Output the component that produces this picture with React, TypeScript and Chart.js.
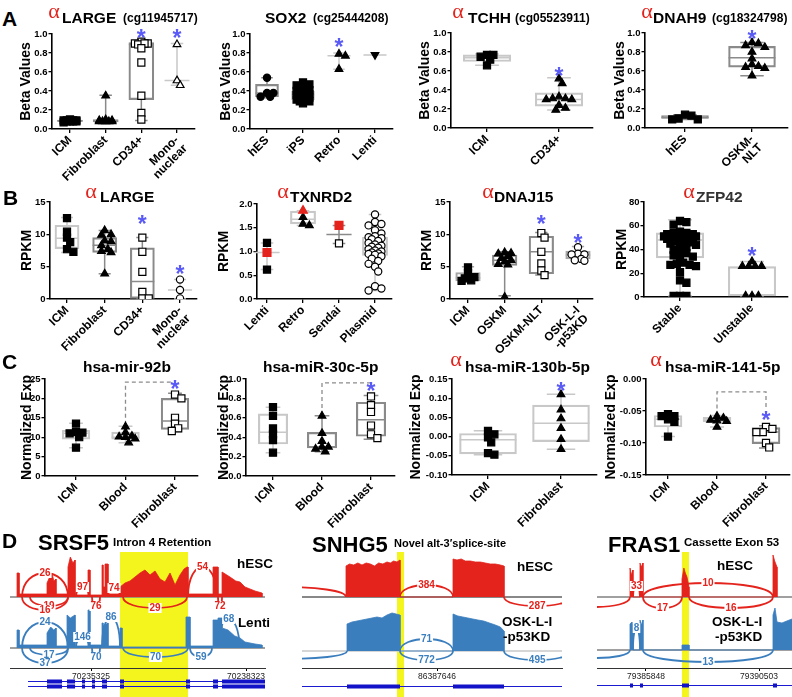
import React, { useEffect, useRef } from 'react';
import { Chart, registerables } from 'chart.js';
Chart.register(...registerables);

const FONT = "'Liberation Sans', Arial, Helvetica, sans-serif";
const SERIF = "'Liberation Serif', 'DejaVu Serif', serif";
const RED = '#e3231c';
const BLUE = '#3b7ebe';
const STAR = '#5a5af6';
const TONE: any = { d: '#8a8a8a', m: '#a6a6a6', l: '#c8c8c8' };

// ---------------- Row A : Beta values ----------------
const A1_CATS = ['ICM', 'Fibroblast', 'CD34+', ['Mono-', 'nuclear']];
const A1_ICM = [0.08, 0.09, 0.07, 0.09, 0.1, 0.08, 0.09, 0.08, 0.09, 0.08];
const A1_FIB = [0.35, 0.1, 0.09, 0.08, 0.08, 0.08, 0.08, 0.08, 0.09];
const A1_CD34 = [0.92, 0.9, 0.9, 0.89, 0.9, 0.85, 0.7, 0.35, 0.17, 0.1];
const A1_MONO = [0.89, 0.51, 0.46];
const A1_BOX = [[0.07, 0.08, 0.085, 0.095, 0.1], [0.07, 0.075, 0.085, 0.1, 0.355], [0.09, 0.31, 0.89, 0.91, 0.93], [0.46, null, 0.51, null, 0.9]];
const A1_STARS = [[2, 1.02], [3, 1.02]];

const A2_CATS = ['hES', 'iPS', 'Retro', 'Lenti'];
const A2_HES = [0.54, 0.38, 0.34, 0.34, 0.38];
const A2_IPS = [0.49, 0.47, 0.46, 0.42, 0.41, 0.4, 0.39, 0.38, 0.37, 0.36, 0.36, 0.35, 0.34, 0.33, 0.32, 0.31, 0.3, 0.29, 0.29, 0.27];
const A2_RETRO = [0.79, 0.77, 0.63];
const A2_LENTI = [0.78];
const A2_BOX = [[0.33, 0.34, 0.38, 0.47, 0.54], [0.27, 0.31, 0.36, 0.4, 0.49], [0.63, null, 0.77, null, 0.8], [0.78, null, 0.78, null, 0.78]];
const A2_STARS = [[2, 0.93]];

const A3_CATS = ['ICM', 'CD34+'];
const A3_ICM = [0.77, 0.77, 0.75, 0.72, 0.66];
const A3_CD34 = [0.52, 0.47, 0.33, 0.31, 0.31, 0.3, 0.3, 0.24, 0.21, 0.19];
const A3_BOX = [[0.66, 0.7, 0.74, 0.77, 0.78], [0.19, 0.23, 0.3, 0.37, 0.53]];
const A3_STARS = [[1, 0.61]];

const A4_CATS = ['hES', ['OSKM-', 'NLT']];
const A4_HES = [0.14, 0.1, 0.09, 0.09, 0.13];
const A4_NLT = [0.9, 0.89, 0.87, 0.85, 0.8, 0.73, 0.67, 0.65, 0.64, 0.63, 0.55];
const A4_BOX = [[0.09, 0.1, 0.11, 0.13, 0.14], [0.55, 0.64, 0.74, 0.86, 0.9]];
const A4_STARS = [[1, 1.0]];

// ---------------- Row B : RPKM ----------------
const B1_CATS = ['ICM', 'Fibroblast', 'CD34+', ['Mono-', 'nuclear']];
const B1_ICM = [12.5, 10.4, 9.5, 8.8, 7.7, 7.3];
const B1_FIB = [10.6, 10.0, 9.9, 9.0, 8.9, 8.3, 7.7, 7.4, 7.2, 3.9];
const B1_CD34 = [9.5, 7.3, 4.2, 1.1, 0.1, 0.1];
const B1_MONO = [3.0, 1.4, 0.1];
const B1_BOX = [[7.2, 7.8, 9.4, 11.4, 12.6], [3.9, 7.2, 8.3, 9.5, 10.6], [0, 0, 2.7, 7.9, 9.5], [0, null, 1.4, null, 3.0]];
const B1_STARS = [[2, 12.5], [3, 4.8]];

const B2_CATS = ['Lenti', 'Retro', 'Sendai', 'Plasmid'];
const B2_LENTI = [1.18, 0.62];
const B2_LENTI_RED = [0.98];
const B2_RETRO = [1.72, 1.58, 1.55];
const B2_RETRO_RED = [1.86];
const B2_SENDAI = [1.17];
const B2_SENDAI_RED = [1.55];
const B2_PLASMID = [1.78, 1.62, 1.58, 1.55, 1.45, 1.38, 1.32, 1.3, 1.28, 1.26, 1.22, 1.18, 1.15, 1.12, 1.1, 1.08, 1.05, 1.02, 1.0, 0.98, 0.96, 0.95, 0.93, 0.9, 0.85, 0.8, 0.74, 0.68, 0.58, 0.27, 0.22, 0.18];
const B2_BOX = [[0.62, null, 0.98, null, 1.18], [1.55, 1.58, 1.68, 1.85, 1.86], [1.17, null, 1.36, null, 1.55], [0.18, 0.92, 1.08, 1.3, 1.78]];

const B3_CATS = ['ICM', 'OSKM', 'OSKM-NLT', ['OSK-L-I', '-p53KD']];
const B3_ICM = [4.9, 4.0, 3.4, 3.2, 2.9, 2.8];
const B3_OSKM = [7.2, 7.1, 7.0, 6.6, 6.3, 6.0, 5.8, 5.4, 5.3, 0.3];
const B3_NLT = [10.2, 9.5, 7.3, 5.5, 4.4, 3.7];
const B3_KD = [8.0, 7.0, 6.9, 6.9, 6.2, 6.0, 5.9];
const B3_BOX = [[2.7, 2.8, 3.3, 4.1, 5.0], [0.5, 5.2, 6.0, 6.8, 7.3], [3.7, 3.9, 7.3, 9.7, 10.3], [5.8, 6.2, 6.8, 7.4, 8.1]];
const B3_STARS = [[2, 12.6], [3, 9.6]];

const B4_CATS = ['Stable', 'Unstable'];
const B4_STABLE = [64, 63, 61, 55, 54, 54, 53, 53, 53, 52, 52, 52, 51, 51, 50, 50, 50, 49, 49, 48, 47, 46, 45, 44, 43, 42, 40, 38, 37, 35, 34, 33, 29, 28, 27, 27, 26, 21, 14, 12, 1, 1, 1];
const B4_UNSTABLE = [30, 26, 26, 26, 26, 1, 1, 1];
const B4_BOX = [[1, 33, 48, 54, 65], [1, 1, 25, 25.5, 30]];
const B4_STARS = [[1, 40]];

// ---------------- Row C : miRNA ----------------
const C1_CATS = ['ICM', 'Blood', 'Fibroblast'];
const C1_ICM = [13.5, 11.3, 11.2, 11.0, 10.0, 7.3];
const C1_BLOOD = [12.7, 11.2, 10.3, 10.1, 10.0, 9.6, 8.6];
const C1_FIB = [21.0, 20.0, 15.0, 13.5, 12.3, 11.6];
const C1_BOX = [[7.3, 9.5, 11.0, 11.8, 13.6], [8.6, 9.5, 10.0, 11.3, 12.8], [11.5, 12.0, 14.2, 20.0, 21.3]];
const C1_STARS = [[2, 24.0]];
const C1_BRACKETS = [[1, 2, 13.2, 24.2, null]];

const C2_CATS = ['ICM', 'Blood', 'Fibroblast'];
const C2_ICM = [0.71, 0.62, 0.49, 0.43, 0.37, 0.24];
const C2_BLOOD = [0.62, 0.44, 0.36, 0.3, 0.3, 0.28, 0.25];
const C2_FIB = [0.82, 0.73, 0.66, 0.52, 0.43, 0.39];
const C2_BOX = [[0.24, 0.33, 0.45, 0.64, 0.71], [0.25, 0.29, 0.3, 0.45, 0.62], [0.38, 0.41, 0.58, 0.76, 0.83]];
const C2_STARS = [[2, 0.94]];
const C2_BRACKETS = [[1, 2, 0.63, 0.96, null]];

const C3_CATS = ['ICM', 'Fibroblast'];
const C3_ICM = [0.015, 0.006, -0.002, -0.015, -0.043, -0.047];
const C3_FIB = [0.11, 0.07, 0.047, 0.022, -0.007, -0.033];
const C3_BOX = [[-0.047, -0.045, -0.008, 0.008, 0.015], [-0.033, -0.013, 0.035, 0.082, 0.11]];
const C3_STARS = [[1, 0.134]];

const C4_CATS = ['ICM', 'Blood', 'Fibroblast'];
const C4_ICM = [-0.055, -0.058, -0.058, -0.063, -0.067, -0.09];
const C4_BLOOD = [-0.058, -0.061, -0.064, -0.065, -0.066, -0.075];
const C4_FIB = [-0.075, -0.078, -0.083, -0.083, -0.1, -0.107];
const C4_BOX = [[-0.09, -0.075, -0.063, -0.057, -0.055], [-0.075, -0.067, -0.064, -0.06, -0.057], [-0.108, -0.101, -0.083, -0.076, -0.073]];
const C4_STARS = [[2, -0.055]];
const C4_BRACKETS = [[1, 2, -0.057, -0.02, -0.045]];

// ---------------- Row D : sashimi ----------------
const SRSF5_ORIGIN = 70235325;
const SRSF5_TICKS = [0, 2998];
const SRSF5_RANGE = [-1567, 3365];
const SRSF5_HL = [561, 1876];
const SRSF5_HESC_COV = [[-1431, 0], [-1431, 24], [-1392, 24], [-1392, 3], [-851, 3], [-851, 14], [-800, 20], [-754, 24], [-720, 16], [-677, 18], [-677, 3], [-445, 3], [-445, 30], [-400, 40], [-350, 34], [-309, 37], [-309, 2], [-58, 2], [-58, 27], [-20, 27], [-20, 2], [213, 2], [213, 32], [232, 32], [232, 10], [271, 10], [271, 33], [329, 33], [329, 3], [561, 3], [561, 10], [658, 14], [754, 16], [851, 20], [948, 24], [1044, 27], [1141, 22], [1238, 26], [1334, 18], [1431, 15], [1528, 24], [1625, 12], [1721, 22], [1799, 28], [1857, 30], [1876, 30], [1876, 3], [2360, 3], [2360, 30], [2456, 30], [2456, 3], [2534, 3], [2534, 25], [2688, 20], [2800, 16], [2882, 15], [2978, 10], [3172, 6], [3307, 4], [3307, 0]];
const SRSF5_LENTI_COV = [[-1431, 0], [-1431, 18], [-1392, 18], [-1392, 3], [-851, 3], [-851, 15], [-780, 21], [-720, 18], [-677, 20], [-677, 2], [-464, 2], [-464, 33], [-400, 30], [-309, 33], [-309, 2], [-58, 2], [-58, 38], [-20, 38], [-20, 3], [213, 3], [213, 25], [232, 25], [232, 22], [329, 25], [329, 2], [561, 2], [561, 20], [600, 20], [600, 1], [1837, 1], [1837, 31], [1915, 31], [1915, 2], [2360, 2], [2360, 28], [2456, 28], [2456, 30], [2534, 30], [2534, 20], [2650, 18], [2780, 12], [2882, 10], [2978, 6], [3172, 4], [3307, 3], [3307, 0]];
const SRSF5_HESC_JX = [[-1334, -445, 26], [-290, -39, 97], [329, 561, 74], [1876, 2437, 54], [-1180, -445, 19], [-1334, -445, 16], [19, 174, 76], [619, 1857, 29], [2456, 2534, 72]];
const SRSF5_HESC_SIDE = [1, 1, 1, 1, -1, -1, -1, -1, -1];
const SRSF5_HESC_LIFT = [24, 10, 9, 30, 9, 13, 9, 11, 9];
const SRSF5_LENTI_JX = [[-1334, -445, 24], [-290, -39, 146], [213, 561, 86], [2456, 2870, 68], [-1180, -445, 17], [-1334, -445, 37], [19, 174, 70], [619, 1876, 70], [1915, 2340, 59]];
const SRSF5_LENTI_SIDE = [1, 1, 1, 1, -1, -1, -1, -1, -1];
const SRSF5_LENTI_LIFT = [26, 11, 31, 29, 7, 15, 9, 9, 9];
const SRSF5_EXONS = [[-851, -561], [-464, -309], [-174, -116], [19, 77], [213, 309], [561, 638], [1837, 1915], [2360, 2456], [2534, 3365]];
const SRSF5_GENE_SPAN = [-1218, 3365];

const SNHG5_ORIGIN = 86387646;
const SNHG5_TICKS = [0];
const SNHG5_RANGE = [-1620, 1500];
const SNHG5_HL = [-480, -396];
const SNHG5_HESC_COV = [[-1092, 0], [-1092, 31], [-1050, 33], [-1000, 32], [-950, 34], [-900, 32], [-850, 34], [-800, 33], [-750, 31], [-700, 34], [-650, 33], [-600, 35], [-560, 34], [-520, 36], [-480, 35], [-444, 37], [-444, 0], [192, 0], [192, 38], [240, 37], [290, 38], [340, 36], [400, 36], [460, 35], [520, 35], [580, 34], [640, 33], [700, 33], [760, 32], [804, 31], [804, 0]];
const SNHG5_OSK_COV = [[-1080, 0], [-1080, 27], [-1020, 29], [-960, 30], [-900, 31], [-840, 32], [-780, 33], [-720, 34], [-660, 33], [-600, 36], [-540, 38], [-490, 37], [-444, 36], [-444, 0], [192, 0], [192, 37], [250, 35], [310, 34], [370, 33], [430, 32], [490, 31], [560, 30], [630, 28], [700, 26], [760, 24], [804, 20], [804, 0]];
const SNHG5_HESC_JX = [[-2600, -1092, null], [-444, 192, 384], [804, 1600, 287]];
const SNHG5_HESC_SIDE = [1, 1, -1];
const SNHG5_HESC_LIFT = [10, 12, 9];
const SNHG5_OSK_JX = [[-2600, -1080, null], [-444, 192, 71], [-444, 192, 772], [804, 1600, 495]];
const SNHG5_OSK_SIDE = [-1, 1, -1, -1];
const SNHG5_OSK_LIFT = [8, 12, 9, 9];
const SNHG5_EXONS = [[-1080, -444], [192, 804]];
const SNHG5_GENE_SPAN = [-1620, 1500];

const FRAS1_ORIGIN = 79385848;
const FRAS1_TICKS = [0, 4655];
const FRAS1_RANGE = [-2018, 6014];
const FRAS1_HL = [1483, 1771];
const FRAS1_HESC_COV = [[-659, 0], [-659, 29], [-600, 22], [-536, 27], [-536, 0], [-247, 0], [-247, 34], [-190, 30], [-124, 34], [-124, 0], [1483, 0], [1483, 18], [1560, 29], [1620, 24], [1689, 20], [1771, 10], [1771, 0], [5231, 0], [5231, 42], [5300, 36], [5396, 30], [5396, 0]];
const FRAS1_OSK_COV = [[-659, 0], [-659, 26], [-580, 28], [-536, 26], [-536, 0], [-247, 0], [-247, 30], [-180, 25], [-124, 30], [-124, 0], [1483, 0], [1483, 5], [1771, 5], [1771, 0], [5231, 0], [5231, 35], [5313, 42], [5396, 28], [5600, 27], [5800, 29], [6014, 31]];
const FRAS1_HESC_JX = [[-3500, -659, null], [-536, -247, 33], [-124, 5231, 10], [-124, 1483, 17], [1771, 5231, 16]];
const FRAS1_HESC_SIDE = [-1, 1, 1, -1, -1];
const FRAS1_HESC_LIFT = [10, 11, 14, 11, 11];
const FRAS1_OSK_JX = [[-3500, -659, null], [-536, -247, 8], [-124, 5231, 13]];
const FRAS1_OSK_SIDE = [-1, 1, -1];
const FRAS1_OSK_LIFT = [8, 22, 12];
const FRAS1_EXONS = [[-659, -536], [-247, -124], [1483, 1771], [5231, 5396]];
const FRAS1_GENE_SPAN = [-2018, 6014];

// ---------------- markers ----------------
const MK: any = {
  sq: { ps: 'rect', r: 5, fill: '#000', stroke: '#000' },
  osq: { ps: 'rect', r: 5, fill: '#fff', stroke: '#000' },
  rsq: { ps: 'rect', r: 5.6, fill: RED, stroke: RED },
  tri: { ps: 'triangle', r: 4.4, fill: '#000', stroke: '#000' },
  otri: { ps: 'triangle', r: 4.4, fill: '#fff', stroke: '#000' },
  rtri: { ps: 'triangle', r: 5, fill: RED, stroke: RED },
  itri: { ps: 'triangle', r: 4.4, fill: '#000', stroke: '#000', rot: 180 },
  dot: { ps: 'circle', r: 3.6, fill: '#000', stroke: '#000' },
  odot: { ps: 'circle', r: 3.6, fill: '#fff', stroke: '#000' },
};

// ---------------- panel specs (layout kept separate from data) ----------------
const BOX_PANELS: any[] = [
  { id: 'A1', cats: A1_CATS, groups: [[0, A1_ICM, 'sq'], [1, A1_FIB, 'tri'], [2, A1_CD34, 'osq'], [3, A1_MONO, 'otri']], boxes: A1_BOX, tones: ['d', 'd', 'd', 'l'], stars: A1_STARS, brackets: [], y: [0, 1, 0.2], dec: 1, yTitle: 'Beta Values', frac: 0.7, lay: { L: 52, R: 195, T: 34, B: 129, ytx: 26, c0: 70, cl: 177 } },
  { id: 'A2', cats: A2_CATS, groups: [[0, A2_HES, 'dot'], [1, A2_IPS, 'sq'], [2, A2_RETRO, 'tri'], [3, A2_LENTI, 'itri']], boxes: A2_BOX, tones: ['d', 'l', 'l', 'l'], stars: A2_STARS, brackets: [], y: [0, 1, 0.2], dec: 1, yTitle: 'Beta Values', frac: 0.64, lay: { L: 250, R: 393, T: 34, B: 129, ytx: 226, c0: 267, cl: 375 } },
  { id: 'A3', cats: A3_CATS, groups: [[0, A3_ICM, 'sq'], [1, A3_CD34, 'tri']], boxes: A3_BOX, tones: ['l', 'l'], stars: A3_STARS, brackets: [], y: [0, 1, 0.2], dec: 1, yTitle: 'Beta Values', frac: 0.66, lay: { L: 451, R: 593, T: 33, B: 128, ytx: 425, c0: 487, cl: 559 } },
  { id: 'A4', cats: A4_CATS, groups: [[0, A4_HES, 'sq'], [1, A4_NLT, 'tri']], boxes: A4_BOX, tones: ['d', 'd'], stars: A4_STARS, brackets: [], y: [0, 1, 0.2], dec: 1, yTitle: 'Beta Values', frac: 0.7, lay: { L: 645, R: 788, T: 33, B: 128, ytx: 620, c0: 685, cl: 752 } },
  { id: 'B1', cats: B1_CATS, groups: [[0, B1_ICM, 'sq'], [1, B1_FIB, 'tri'], [2, B1_CD34, 'osq'], [3, B1_MONO, 'odot']], boxes: B1_BOX, tones: ['l', 'd', 'd', 'l'], stars: B1_STARS, brackets: [], y: [0, 15, 5], dec: 0, yTitle: 'RPKM', frac: 0.64, lay: { L: 50, R: 197, T: 202, B: 299, ytx: 27, c0: 67, cl: 180 } },
  { id: 'B2', cats: B2_CATS, groups: [[0, B2_LENTI, 'sq'], [0, B2_LENTI_RED, 'rsq'], [1, B2_RETRO, 'tri'], [1, B2_RETRO_RED, 'rtri'], [2, B2_SENDAI, 'osq'], [2, B2_SENDAI_RED, 'rsq'], [3, B2_PLASMID, 'odot']], boxes: B2_BOX, tones: ['l', 'l', 'd', 'l'], stars: [], brackets: [], y: [0, 2, 0.5], dec: 1, yTitle: 'RPKM', frac: 0.7, lay: { L: 257, R: 392, T: 204, B: 299, ytx: 224, c0: 267, cl: 375 } },
  { id: 'B3', cats: B3_CATS, groups: [[0, B3_ICM, 'sq'], [1, B3_OSKM, 'tri'], [2, B3_NLT, 'osq'], [3, B3_KD, 'odot']], boxes: B3_BOX, tones: ['m', 'd', 'd', 'm'], stars: B3_STARS, brackets: [], y: [0, 15, 5], dec: 0, yTitle: 'RPKM', frac: 0.67, lay: { L: 450, R: 593, T: 202, B: 299, ytx: 427, c0: 468, cl: 578 } },
  { id: 'B4', cats: B4_CATS, groups: [[0, B4_STABLE, 'sq'], [1, B4_UNSTABLE, 'tri']], boxes: B4_BOX, tones: ['l', 'l'], stars: B4_STARS, brackets: [], y: [0, 80, 20], dec: 0, yTitle: 'RPKM', frac: 0.66, lay: { L: 644, R: 788, T: 202, B: 297, ytx: 622, c0: 680, cl: 752 } },
  { id: 'C1', cats: C1_CATS, groups: [[0, C1_ICM, 'sq'], [1, C1_BLOOD, 'tri'], [2, C1_FIB, 'osq']], boxes: C1_BOX, tones: ['l', 'l', 'd'], stars: C1_STARS, brackets: C1_BRACKETS, y: [0, 25, 5], dec: 0, yTitle: 'Normalized Exp', frac: 0.56, lay: { L: 45, R: 198, T: 379, B: 476, ytx: 27, c0: 76, cl: 175 } },
  { id: 'C2', cats: C2_CATS, groups: [[0, C2_ICM, 'sq'], [1, C2_BLOOD, 'tri'], [2, C2_FIB, 'osq']], boxes: C2_BOX, tones: ['l', 'd', 'd'], stars: C2_STARS, brackets: C2_BRACKETS, y: [0, 1, 0.2], dec: 1, yTitle: 'Normalized Exp', frac: 0.6, lay: { L: 246, R: 395, T: 379, B: 476, ytx: 224, c0: 273, cl: 371 } },
  { id: 'C3', cats: C3_CATS, groups: [[0, C3_ICM, 'sq'], [1, C3_FIB, 'tri']], boxes: C3_BOX, tones: ['l', 'l'], stars: C3_STARS, brackets: [], y: [-0.1, 0.15, 0.05], dec: 2, yTitle: 'Normalized Exp', frac: 0.78, lay: { L: 452, R: 597, T: 379, B: 475, ytx: 416, c0: 488, cl: 561 } },
  { id: 'C4', cats: C4_CATS, groups: [[0, C4_ICM, 'sq'], [1, C4_BLOOD, 'tri'], [2, C4_FIB, 'osq']], boxes: C4_BOX, tones: ['l', 'l', 'd'], stars: C4_STARS, brackets: C4_BRACKETS, y: [-0.15, 0, 0.05], dec: 2, yTitle: 'Normalized Exp', frac: 0.57, lay: { L: 646, R: 790, T: 379, B: 475, ytx: 611, c0: 668, cl: 766 } },
];

const SASHIMI: any[] = [
  { id: 'SRSF5', origin: SRSF5_ORIGIN, ticks: SRSF5_TICKS, range: SRSF5_RANGE, hl: SRSF5_HL, exons: SRSF5_EXONS, span: SRSF5_GENE_SPAN, geneRows: [13, 18],
    tracks: [
      { base: 71, color: RED, line: '#808080', cov: SRSF5_HESC_COV, jx: SRSF5_HESC_JX, side: SRSF5_HESC_SIDE, lift: SRSF5_HESC_LIFT },
      { base: 20, color: BLUE, line: '#808080', cov: SRSF5_LENTI_COV, jx: SRSF5_LENTI_JX, side: SRSF5_LENTI_SIDE, lift: SRSF5_LENTI_LIFT },
    ], lay: { L: 10, R: 265, T: 552, B: 668 } },
  { id: 'SNHG5', origin: SNHG5_ORIGIN, ticks: SNHG5_TICKS, range: SNHG5_RANGE, hl: SNHG5_HL, exons: SNHG5_EXONS, span: SNHG5_GENE_SPAN, geneRows: [18],
    tracks: [
      { base: 71, color: RED, line: '#606060', cov: SNHG5_HESC_COV, jx: SNHG5_HESC_JX, side: SNHG5_HESC_SIDE, lift: SNHG5_HESC_LIFT },
      { base: 17, color: BLUE, line: '#c8c8c8', cov: SNHG5_OSK_COV, jx: SNHG5_OSK_JX, side: SNHG5_OSK_SIDE, lift: SNHG5_OSK_LIFT },
    ], lay: { L: 302, R: 562, T: 552, B: 668 } },
  { id: 'FRAS1', origin: FRAS1_ORIGIN, ticks: FRAS1_TICKS, range: FRAS1_RANGE, hl: FRAS1_HL, exons: FRAS1_EXONS, span: FRAS1_GENE_SPAN, geneRows: [17],
    tracks: [
      { base: 71, color: RED, line: '#808080', cov: FRAS1_HESC_COV, jx: FRAS1_HESC_JX, side: FRAS1_HESC_SIDE, lift: FRAS1_HESC_LIFT },
      { base: 18, color: BLUE, line: '#808080', cov: FRAS1_OSK_COV, jx: FRAS1_OSK_JX, side: FRAS1_OSK_SIDE, lift: FRAS1_OSK_LIFT },
    ], lay: { L: 597, R: 792, T: 552, B: 668 } },
];

// ---------------- helpers ----------------
// beeswarm-style horizontal spread of points (layout only), capped to a band width
function swarm(values: number[], ypx: number, xpx: number, d: number, maxHalf: number): number[] {
  const idx = values.map((_, i) => i).sort((a, b) => values[b] - values[a]);
  const placed: { x: number; y: number }[] = [];
  const out = new Array(values.length).fill(0);
  for (const i of idx) {
    const y = values[i] * ypx;
    let best = 0;
    let bestScore = -1;
    for (let k = 0; k < 80; k++) {
      const cand = (k % 2 === 1 ? 1 : -1) * Math.ceil(k / 2) * d * 0.5;
      if (Math.abs(cand) > maxHalf + 1e-6) break;
      let minD = Infinity;
      placed.forEach((p) => { minD = Math.min(minD, Math.hypot(p.x - cand, p.y - y)); });
      if (minD >= d * 0.85) { best = cand; bestScore = Infinity; break; }
      if (minD > bestScore + 0.01) { bestScore = minD; best = cand; }
    }
    placed.push({ x: best, y });
    out[i] = best / xpx;
  }
  return out;
}

function boxGeom(P: any) {
  const { R, T, B, ytx } = P.lay;
  const x0 = Math.round(ytx - 8.4);
  const y0 = T - 16;
  const W = Math.round(R - x0 + 10);
  const H = B - y0 + 64;
  return { x0, y0, W, H };
}

function makeBoxChart(canvas: HTMLCanvasElement, P: any) {
  const { L, R, T, B, c0, cl } = P.lay;
  const { x0, y0, W, H } = boxGeom(P);
  const n = P.cats.length;
  const sp = (cl - c0) / (n - 1);
  const xmin = -(c0 - L) / sp;
  const xmax = n - 1 + (R - cl) / sp;
  const [yMin, yMax, yStep] = P.y;
  const ypx = (B - T) / (yMax - yMin);
  const boxW = P.frac * sp;
  const maxHalf = Math.max(0.31 * sp - 3.5, 4);
  const datasets: any[] = [];
  const boxData: any[] = [];
  const boxCols: string[] = [];
  P.boxes.forEach((b: any, i: number) => {
    if (b[1] != null) { boxData.push({ x: i, y: [b[1], b[3]] }); boxCols.push(TONE[P.tones[i]]); }
  });
  datasets.push({ type: 'bar', data: boxData, backgroundColor: 'rgba(0,0,0,0)', borderColor: boxCols, borderWidth: 1.5, borderSkipped: false, barThickness: boxW, grouped: false, order: 5 });
  P.groups.forEach((g: any) => {
    const [cat, vals, mk] = g;
    const m = MK[mk];
    const off = swarm(vals, ypx, sp, 6.4, maxHalf);
    datasets.push({
      type: 'scatter', data: vals.map((v: number, k: number) => ({ x: cat + off[k], y: v })),
      pointStyle: m.ps, pointRadius: m.r, pointRotation: m.rot || 0, pointBackgroundColor: m.fill, pointBorderColor: m.stroke,
      pointBorderWidth: 1.2, pointHoverRadius: m.r, showLine: false, order: m.fill === RED ? 1 : 2,
    });
  });
  const yTicks: number[] = [];
  for (let k = 0; yMin + k * yStep <= yMax + 1e-9; k++) yTicks.push(+(yMin + k * yStep).toFixed(4));

  const extras = {
    id: 'extras' + P.id,
    beforeDatasetsDraw(chart: any) {
      const { ctx } = chart;
      const xs = chart.scales.x, ys = chart.scales.y;
      ctx.save();
      ctx.lineWidth = 1.5;
      P.boxes.forEach((b: any, i: number) => {
        const [wl, q1, md, q3, wh] = b;
        const cx = xs.getPixelForValue(i);
        const hw = boxW / 2, cw = boxW * 0.25;
        ctx.strokeStyle = TONE[P.tones[i]];
        ctx.beginPath();
        if (q1 != null) {
          ctx.moveTo(cx, ys.getPixelForValue(wl)); ctx.lineTo(cx, ys.getPixelForValue(q1));
          ctx.moveTo(cx, ys.getPixelForValue(q3)); ctx.lineTo(cx, ys.getPixelForValue(wh));
        } else {
          ctx.moveTo(cx, ys.getPixelForValue(wl)); ctx.lineTo(cx, ys.getPixelForValue(wh));
        }
        ctx.moveTo(cx - cw, ys.getPixelForValue(wl)); ctx.lineTo(cx + cw, ys.getPixelForValue(wl));
        ctx.moveTo(cx - cw, ys.getPixelForValue(wh)); ctx.lineTo(cx + cw, ys.getPixelForValue(wh));
        ctx.moveTo(cx - hw, ys.getPixelForValue(md)); ctx.lineTo(cx + hw, ys.getPixelForValue(md));
        ctx.stroke();
      });
      ctx.strokeStyle = '#8c8c8c';
      ctx.lineWidth = 1.3;
      ctx.setLineDash([4, 3]);
      P.brackets.forEach((br: any) => {
        const [a, b, ya, yt, yb] = br;
        ctx.beginPath();
        ctx.moveTo(xs.getPixelForValue(a), ys.getPixelForValue(ya));
        ctx.lineTo(xs.getPixelForValue(a), ys.getPixelForValue(yt));
        ctx.lineTo(xs.getPixelForValue(b), ys.getPixelForValue(yt));
        if (yb != null) ctx.lineTo(xs.getPixelForValue(b), ys.getPixelForValue(yb));
        ctx.stroke();
      });
      ctx.restore();
    },
    afterDatasetsDraw(chart: any) {
      const { ctx } = chart;
      const xs = chart.scales.x, ys = chart.scales.y;
      ctx.save();
      const size = 23;
      ctx.font = `bold ${size}px ${FONT}`;
      ctx.fillStyle = STAR;
      ctx.textAlign = 'center';
      ctx.textBaseline = 'alphabetic';
      P.stars.forEach((s: any) => {
        ctx.fillText('*', xs.getPixelForValue(s[0]), ys.getPixelForValue(s[1]) + size * 0.62);
      });
      ctx.restore();
    },
  };

  return new Chart(canvas, {
    type: 'bar',
    data: { datasets },
    plugins: [extras],
    options: {
      responsive: false, animation: false, devicePixelRatio: 1,
      layout: { padding: { left: 0, top: T - y0, right: x0 + W - R, bottom: 0 } },
      plugins: { legend: { display: false }, tooltip: { enabled: false }, title: { display: false } },
      events: [],
      scales: {
        x: {
          type: 'linear', min: xmin, max: xmax, offset: false,
          afterBuildTicks: (s: any) => { s.ticks = P.cats.map((_: any, i: number) => ({ value: i })); },
          afterFit: (s: any) => { s.height = H - (B - y0); s.paddingLeft = 0; s.paddingRight = 0; },
          ticks: { autoSkip: false, maxRotation: 45, minRotation: 45, padding: 1, color: '#000', font: { family: FONT, size: 12, weight: 'bold', lineHeight: 1.0 },
            callback: (v: any) => P.cats[Math.round(v)] },
          grid: { drawOnChartArea: false, offset: false, color: '#000', tickLength: 4, lineWidth: 1.3 },
          border: { color: '#000', width: 1.6 },
        },
        y: {
          type: 'linear', min: yMin, max: yMax,
          afterBuildTicks: (s: any) => { s.ticks = yTicks.map((v) => ({ value: v })); },
          afterFit: (s: any) => { s.width = L - x0; s.paddingTop = 0; s.paddingBottom = 0; },
          ticks: { padding: 1, color: '#000', font: { family: FONT, size: 9.5, weight: 'bold' }, callback: (v: any) => Number(v).toFixed(P.dec) },
          grid: { drawOnChartArea: false, color: '#000', tickLength: 3.5, lineWidth: 1.3 },
          border: { color: '#000', width: 1.6 },
          title: { display: true, text: P.yTitle, color: '#000', padding: 0, font: { family: FONT, size: 14, weight: 'bold' } },
        },
      },
    } as any,
  });
}

function sashGeom(S: any) {
  const { L, R } = S.lay;
  const x0 = L - 4;
  const y0 = 540;
  const W = Math.min(792, R + 4) - x0;
  const H = 697 - y0;
  return { x0, y0, W, H };
}

function makeSashimi(canvas: HTMLCanvasElement, S: any) {
  const { L, R, T, B } = S.lay;
  const { x0, y0, W, H } = sashGeom(S);
  const datasets = S.tracks.map((tr: any) => ({
    type: 'line',
    data: tr.cov.map((p: number[]) => ({ x: p[0], y: tr.base + p[1] })),
    borderColor: tr.color, backgroundColor: tr.color, borderWidth: 0.8, pointRadius: 0, tension: 0,
    fill: { value: tr.base },
  }));
  const plug = {
    id: 'sash' + S.id,
    beforeDraw(chart: any) {
      const { ctx, chartArea: ca } = chart;
      const xs = chart.scales.x, ys = chart.scales.y;
      ctx.save();
      ctx.fillStyle = '#f3f51c';
      const a = xs.getPixelForValue(S.hl[0]), b = xs.getPixelForValue(S.hl[1]);
      ctx.fillRect(a, ca.top, b - a, chart.height - ca.top);
      S.tracks.forEach((tr: any) => {
        const y = ys.getPixelForValue(tr.base);
        ctx.strokeStyle = tr.line; ctx.lineWidth = 1.6;
        ctx.beginPath(); ctx.moveTo(ca.left, y); ctx.lineTo(ca.right, y); ctx.stroke();
      });
      ctx.restore();
    },
    afterDatasetsDraw(chart: any) {
      const { ctx, chartArea: ca } = chart;
      const xs = chart.scales.x, ys = chart.scales.y;
      ctx.save();
      ctx.beginPath(); ctx.rect(ca.left, 0, ca.right - ca.left, chart.height); ctx.clip();
      S.tracks.forEach((tr: any) => {
        const yb = ys.getPixelForValue(tr.base);
        ctx.strokeStyle = tr.color; ctx.lineWidth = 1.8;
        tr.jx.forEach((j: any, k: number) => {
          const xa = xs.getPixelForValue(j[0]), xb = xs.getPixelForValue(j[1]);
          const lp = yb - ys.getPixelForValue(tr.base + tr.lift[k]);
          const c = lp * 4 / 3 * tr.side[k];
          ctx.beginPath(); ctx.moveTo(xa, yb); ctx.bezierCurveTo(xa, yb - c, xb, yb - c, xb, yb); ctx.stroke();
        });
      });
      ctx.font = `bold 10px ${FONT}`;
      ctx.textAlign = 'center'; ctx.textBaseline = 'middle';
      S.tracks.forEach((tr: any) => {
        const yb = ys.getPixelForValue(tr.base);
        tr.jx.forEach((j: any, k: number) => {
          if (j[2] == null) return;
          const xm = xs.getPixelForValue((j[0] + j[1]) / 2);
          const lp = yb - ys.getPixelForValue(tr.base + tr.lift[k]);
          const ym = yb - lp * tr.side[k];
          const txt = String(j[2]);
          const w = ctx.measureText(txt).width;
          ctx.fillStyle = '#fff'; ctx.fillRect(xm - w / 2 - 1, ym - 5, w + 2, 10);
          ctx.fillStyle = tr.color; ctx.fillText(txt, xm, ym + 0.5);
        });
      });
      ctx.restore();
    },
    afterDraw(chart: any) {
      const { ctx, chartArea: ca } = chart;
      const xs = chart.scales.x;
      ctx.save();
      S.geneRows.forEach((off: number) => {
        const y = ca.bottom + off;
        ctx.strokeStyle = '#1a1ad0'; ctx.lineWidth = 1;
        ctx.beginPath(); ctx.moveTo(Math.max(ca.left, xs.getPixelForValue(S.span[0])), y + 0.5); ctx.lineTo(Math.min(ca.right, xs.getPixelForValue(S.span[1])), y + 0.5); ctx.stroke();
        ctx.fillStyle = '#1212c8';
        S.exons.forEach((e: number[]) => {
          const a = xs.getPixelForValue(e[0]), b = xs.getPixelForValue(e[1]);
          ctx.fillRect(a, y - 1.5, Math.max(2, b - a), 4);
        });
      });
      ctx.restore();
    },
  };
  return new Chart(canvas, {
    type: 'line',
    data: { datasets },
    plugins: [plug],
    options: {
      responsive: false, animation: false, devicePixelRatio: 1, events: [],
      layout: { padding: { left: L - x0, top: T - y0, right: x0 + W - R, bottom: 0 } },
      plugins: { legend: { display: false }, tooltip: { enabled: false } },
      scales: {
        x: {
          type: 'linear', min: S.range[0], max: S.range[1],
          afterBuildTicks: (s: any) => { s.ticks = S.ticks.map((v: number) => ({ value: v })); },
          afterFit: (s: any) => { s.height = H - (B - y0); s.paddingLeft = 0; s.paddingRight = 0; },
          ticks: { maxRotation: 0, minRotation: 0, padding: 1, color: '#222', font: { family: FONT, size: 8.5 }, callback: (v: any) => String(S.origin + Number(v)) },
          grid: { drawOnChartArea: false, color: '#000', tickLength: 3, lineWidth: 1 },
          border: { color: '#333', width: 1 },
        },
        y: { display: false, min: 0, max: B - T },
      },
    } as any,
  });
}

function Txt(props: any) {
  const { x, y, s, c = '#000', w = 'bold', ff = FONT, anchor = 'l', children } = props;
  const tf = anchor === 'c' ? 'translate(-50%,-50%)' : 'translate(0,-50%)';
  return (
    <div style={{ position: 'absolute', left: x, top: y, transform: tf, fontSize: s, fontWeight: w, color: c, fontFamily: ff, lineHeight: 1, whiteSpace: 'nowrap' }}>{children}</div>
  );
}

function Alpha(props: any) {
  return <Txt x={props.x} y={props.y} s={22} c={RED} w="normal" ff={SERIF} anchor="c">α</Txt>;
}

export default function App() {
  const refs = useRef<(HTMLCanvasElement | null)[]>([]);
  useEffect(() => {
    const charts: any[] = [];
    BOX_PANELS.forEach((P, i) => { const c = refs.current[i]; if (c) charts.push(makeBoxChart(c, P)); });
    SASHIMI.forEach((S, j) => { const c = refs.current[BOX_PANELS.length + j]; if (c) charts.push(makeSashimi(c, S)); });
    return () => charts.forEach((ch) => ch.destroy());
  }, []);
  return (
    <div style={{ position: 'absolute', left: 0, top: 0, width: 792, height: 697, overflow: 'hidden', background: '#fff', fontFamily: FONT }}>
      {BOX_PANELS.map((P, i) => {
        const g = boxGeom(P);
        return <canvas key={P.id} ref={(el) => { refs.current[i] = el; }} width={g.W} height={g.H} style={{ position: 'absolute', left: g.x0, top: g.y0, width: g.W, height: g.H }} />;
      })}
      {SASHIMI.map((S, j) => {
        const g = sashGeom(S);
        return <canvas key={S.id} ref={(el) => { refs.current[BOX_PANELS.length + j] = el; }} width={g.W} height={g.H} style={{ position: 'absolute', left: g.x0, top: g.y0, width: g.W, height: g.H }} />;
      })}

      <Txt x={2} y={18} s={21}>A</Txt>
      <Txt x={3} y={197} s={21}>B</Txt>
      <Txt x={2} y={361} s={21}>C</Txt>
      <Txt x={2} y={540} s={21}>D</Txt>

      <Alpha x={54} y={11} />
      <Txt x={62} y={18} s={15.5}>LARGE</Txt>
      <Txt x={123} y={18} s={12}>(cg11945717)</Txt>
      <Txt x={265} y={18} s={15.5}>SOX2</Txt>
      <Txt x={313} y={18} s={12}>(cg25444208)</Txt>
      <Alpha x={458} y={11} />
      <Txt x={468} y={18} s={15.5}>TCHH</Txt>
      <Txt x={515} y={18} s={12}>(cg05523911)</Txt>
      <Alpha x={647} y={11} />
      <Txt x={653} y={18} s={15.5}>DNAH9</Txt>
      <Txt x={712} y={18} s={12}>(cg18324798)</Txt>

      <Alpha x={91} y={191} />
      <Txt x={100} y={197} s={15.5}>LARGE</Txt>
      <Alpha x={283} y={191} />
      <Txt x={290} y={197} s={15.5}>TXNRD2</Txt>
      <Alpha x={488} y={191} />
      <Txt x={494} y={197} s={15.5}>DNAJ15</Txt>
      <Alpha x={689} y={191} />
      <Txt x={696} y={197} s={15.5} c="#333">ZFP42</Txt>

      <Txt x={83} y={367} s={15.5}>hsa-mir-92b</Txt>
      <Txt x={263} y={367} s={15.5}>hsa-miR-30c-5p</Txt>
      <Alpha x={456} y={359} />
      <Txt x={465} y={367} s={15.5}>hsa-miR-130b-5p</Txt>
      <Alpha x={656} y={359} />
      <Txt x={665} y={367} s={15.5}>hsa-miR-141-5p</Txt>

      <Txt x={38} y={543} s={22}>SRSF5</Txt>
      <Txt x={113} y={543} s={11.5}>Intron 4 Retention</Txt>
      <Txt x={255} y={564} s={13.5} anchor="c">hESC</Txt>
      <Txt x={254} y={623} s={13.5} anchor="c">Lenti</Txt>

      <Txt x={312} y={545} s={22}>SNHG5</Txt>
      <Txt x={394} y={543} s={11}>Novel alt-3′splice-site</Txt>
      <Txt x={535} y={567} s={13.5} anchor="c">hESC</Txt>
      <Txt x={502} y={622} s={13.5}>OSK-L-I</Txt>
      <Txt x={503} y={637} s={13.5}>-p53KD</Txt>

      <Txt x={608} y={545} s={22}>FRAS1</Txt>
      <Txt x={684} y={543} s={11.5}>Cassette Exon 53</Txt>
      <Txt x={735} y={566} s={13.5} anchor="c">hESC</Txt>
      <Txt x={712} y={622} s={13.5}>OSK-L-I</Txt>
      <Txt x={715} y={637} s={13.5}>-p53KD</Txt>
    </div>
  );
}
